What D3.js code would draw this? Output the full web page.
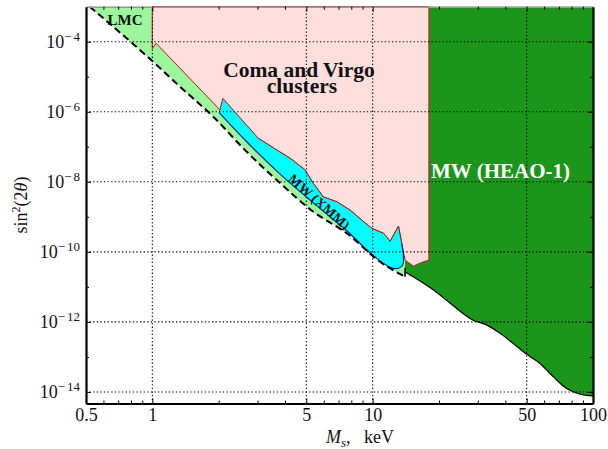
<!DOCTYPE html>
<html lang="en">
<head>
<meta charset="UTF-8">
<title>Sterile neutrino mixing limits</title>
<script src="https://d3js.org/d3.v7.min.js"></script>
<style>
  body { margin: 0; background: #fff; }
  svg text { font-family: "Liberation Serif", "Times New Roman", serif; }
  .grid line { stroke: #000; stroke-width: 1.1; stroke-dasharray: 1.3, 2.3; }
</style>
</head>
<body>
<svg width="608" height="449"></svg>
<script>
// ticks
const xMajor = [0.5, 1, 5, 10, 50, 100];
const xMinor = [0.6, 0.7, 0.8, 0.9, 2, 3, 4, 6, 7, 8, 9, 20, 30, 40, 60, 70, 80, 90];
const xGrid = [1, 5, 10, 50];
const yMajor = [1e-4, 1e-6, 1e-8, 1e-10, 1e-12, 1e-14];
const yMinor = [1e-5, 1e-7, 1e-9, 1e-11, 1e-13];

// LMC lower limit (dashed line), keV vs sin^2(2theta)
const lmcEdge = [[0.52, 1e-3], [1, 2.8e-5], [1.336, 5.2e-6], [1.89, 7.2e-7], [2.68, 7.2e-8],
  [3.8, 9.2e-9], [5.38, 1.39e-9], [7.63, 3.4e-10], [10.8, 5.2e-11], [14.03, 1.95e-11]];

// Coma and Virgo clusters excluded region
const clusterEdge = [[1, 1e-3], [1, 6.3e-5], [1.04, 9e-5], [2.03, 1.12e-6], [3.03, 1.74e-7],
  [3.67, 8.1e-8], [4.22, 4.7e-8], [4.93, 2.2e-8], [5.38, 9.0e-9], [5.97, 3.7e-9], [6.87, 2.7e-9],
  [7.9, 1.55e-9], [8.92, 8.1e-10], [9.9, 4.7e-10], [11.2, 3.4e-10], [12.0, 2.0e-10],
  [13.1, 5.4e-10], [13.55, 1.74e-10], [14.03, 5.8e-11], [15.3, 3.9e-11], [16.7, 5.0e-11],
  [18.0, 5.8e-11], [18.0, 1e-3]];

// MW (XMM) region: upper and lower boundary
const xmmTop = [[2.01, 9.4e-7], [2.09, 2.4e-6], [3.03, 1.74e-7], [3.67, 8.1e-8], [4.22, 4.7e-8],
  [4.93, 2.2e-8], [5.38, 9.0e-9], [5.97, 3.7e-9], [6.87, 2.7e-9], [7.9, 1.55e-9], [8.92, 8.1e-10],
  [9.9, 4.7e-10], [11.2, 3.4e-10], [12.0, 2.0e-10], [13.1, 5.4e-10], [13.55, 1.74e-10],
  [13.8, 7.2e-11], [13.7, 4.2e-11], [13.1, 3.4e-11], [12.0, 3.6e-11]];
const xmmBottom = [[12.0, 3.6e-11], [9.9, 8.6e-11], [7.63, 4.0e-10], [5.38, 2.5e-9],
  [3.8, 1.66e-8], [2.68, 1.39e-7], [2.01, 9.4e-7]];

// MW (HEAO-1) lower edge
const heaoEdge = [[14.03, 2.7e-11], [14.8, 2.2e-11], [18.9, 8.1e-12], [22.5, 3.4e-12],
  [28.6, 1.12e-12], [33.0, 8.1e-13], [37.9, 4.7e-13], [43.5, 2.4e-13], [50.1, 1.19e-13],
  [57.5, 6.5e-14], [66.1, 2.7e-14], [76.0, 1.25e-14], [87.4, 8.6e-15], [100, 7.7e-15]];

const serif = '"Liberation Serif", "Times New Roman", serif';
const yTop = 1e-3;

const x = d3.scaleLog().domain([0.5, 100]).range([86, 593]);
const y = d3.scaleLog().domain([Math.pow(10, -14.33), yTop]).range([403.5, 6.7]);

const svg = d3.select("svg");
const line = d3.line().x(d => x(d[0])).y(d => y(d[1]));
const smooth = d3.line().x(d => x(d[0])).y(d => y(d[1])).curve(d3.curveMonotoneX);
const fillAbove = d3.area().x(d => x(d[0])).y0(y(yTop)).y1(d => y(d[1])).curve(d3.curveMonotoneX);

// light green LMC region
svg.append("path").attr("d", fillAbove(lmcEdge)).attr("fill", "#9cf79c");

// dark green HEAO-1 region
svg.append("path").attr("d", fillAbove(heaoEdge)).attr("fill", "#1b961b");

// clusters (pink)
svg.append("path")
    .attr("d", line(clusterEdge) + "Z")
    .attr("fill", "#ffdede")
    .attr("stroke", "#cc1010")
    .attr("stroke-width", 1);

// MW (XMM) cyan
svg.append("path")
    .attr("d", line(xmmTop.concat(xmmBottom)) + "Z")
    .attr("fill", "#00ffff");
svg.append("path")
    .attr("d", line(xmmTop.slice(0, 16)))
    .attr("fill", "none").attr("stroke", "#b01010").attr("stroke-width", 1);
svg.append("path")
    .attr("d", d3.line().x(d => x(d[0])).y(d => y(d[1])).curve(d3.curveCatmullRom)(xmmTop.slice(15).concat(xmmBottom.slice(1))))
    .attr("fill", "none").attr("stroke", "#1020a0").attr("stroke-width", 1.2);

// HEAO edge line
svg.append("path")
    .attr("d", smooth(heaoEdge))
    .attr("fill", "none").attr("stroke", "#000").attr("stroke-width", 1.2);
const lmcEnd = lmcEdge[lmcEdge.length - 1];
svg.append("line")
    .attr("x1", x(lmcEnd[0])).attr("x2", x(lmcEnd[0]))
    .attr("y1", y(lmcEnd[1])).attr("y2", y(heaoEdge[0][1]) - 4)
    .attr("stroke", "#000").attr("stroke-width", 1.5);

// LMC dashed line
svg.append("path")
    .attr("d", smooth(lmcEdge))
    .attr("fill", "none").attr("stroke", "#000").attr("stroke-width", 2)
    .attr("stroke-dasharray", "7,4");

// grid
const grid = svg.append("g").attr("class", "grid");
grid.selectAll(".gx").data(xGrid).join("line")
    .attr("x1", d => x(d)).attr("x2", d => x(d))
    .attr("y1", y.range()[0]).attr("y2", y.range()[1]);
grid.selectAll(".gy").data(yMajor).join("line")
    .attr("y1", d => y(d)).attr("y2", d => y(d))
    .attr("x1", x.range()[0]).attr("x2", x.range()[1]);

// axes
const [x0, x1] = x.range();
const [yb, yt] = y.range();

function styleAxis(g, color, width) {
    g.attr("font-family", serif).attr("font-size", 18);
    g.select(".domain").attr("stroke", color).attr("stroke-width", width);
    g.selectAll(".tick line").attr("stroke", "#000").attr("stroke-width", 1);
    g.selectAll(".tick text").attr("fill", "#111");
}

const axBottom = svg.append("g").attr("transform", `translate(0,${yb})`)
    .call(d3.axisBottom(x).tickValues(xMajor).tickFormat(d => d).tickSizeInner(-5).tickSizeOuter(0).tickPadding(5));
styleAxis(axBottom, "#000", 2.2);
svg.append("g").attr("transform", `translate(0,${yb})`)
    .call(d3.axisBottom(x).tickValues(xMinor).tickFormat("").tickSizeInner(-3).tickSizeOuter(0))
    .call(g => g.select(".domain").remove());

const axTop = svg.append("g").attr("transform", `translate(0,${yt})`)
    .call(d3.axisTop(x).tickValues(xMajor.slice(1, -1)).tickFormat("").tickSizeInner(-5).tickSizeOuter(0));
styleAxis(axTop, "#999", 1.5);
svg.append("g").attr("transform", `translate(0,${yt})`)
    .call(d3.axisTop(x).tickValues(xMinor).tickFormat("").tickSizeInner(-3).tickSizeOuter(0))
    .call(g => g.select(".domain").remove());

const axLeft = svg.append("g").attr("transform", `translate(${x0},0)`)
    .call(d3.axisLeft(y).tickValues(yMajor).tickSizeInner(-5).tickSizeOuter(0).tickPadding(6));
styleAxis(axLeft, "#000", 2.2);
axLeft.selectAll(".tick text").text(null)
    .each(function (d) {
        const t = d3.select(this);
        const e = Math.round(Math.log10(d));
        t.append("tspan").text("10");
        t.append("tspan").attr("dy", -7).attr("font-size", 13).text("\u2212");
        t.append("tspan").attr("dx", 2).attr("font-size", 13).text(Math.abs(e));
    });
svg.append("g").attr("transform", `translate(${x0},0)`)
    .call(d3.axisLeft(y).tickValues(yMinor).tickFormat("").tickSizeInner(-3).tickSizeOuter(0))
    .call(g => g.select(".domain").remove());

const axRight = svg.append("g").attr("transform", `translate(${x1},0)`)
    .call(d3.axisRight(y).tickValues(yMajor).tickFormat("").tickSizeInner(-5).tickSizeOuter(0));
styleAxis(axRight, "#000", 2.2);
svg.append("g").attr("transform", `translate(${x1},0)`)
    .call(d3.axisRight(y).tickValues(yMinor).tickFormat("").tickSizeInner(-3).tickSizeOuter(0))
    .call(g => g.select(".domain").remove());

// axis titles
const xTitle = svg.append("text").attr("x", 326).attr("y", 443)
    .attr("font-size", 18).attr("fill", "#111");
xTitle.append("tspan").attr("font-style", "italic").text("M");
xTitle.append("tspan").attr("font-style", "italic").attr("font-size", 13).attr("dy", 4).text("s");
xTitle.append("tspan").attr("dy", -4).text(",\u00a0\u00a0\u00a0keV");

const yTitle = svg.append("text").attr("transform", "translate(27,205) rotate(-90)")
    .attr("text-anchor", "middle").attr("font-size", 18).attr("fill", "#111");
yTitle.append("tspan").text("sin");
yTitle.append("tspan").attr("font-size", 12).attr("dy", -7).text("2");
yTitle.append("tspan").attr("dy", 7).text("(2");
yTitle.append("tspan").attr("font-style", "italic").text("\u03b8");
yTitle.append("tspan").text(")");

// region labels
svg.append("text").attr("x", 125).attr("y", 25).attr("text-anchor", "middle")
    .attr("font-size", 15).attr("font-weight", "bold").attr("fill", "#111").text("LMC");
svg.append("text").attr("x", 299).attr("y", 77).attr("text-anchor", "middle")
    .attr("font-size", 21.5).attr("font-weight", "bold").attr("fill", "#111").text("Coma and Virgo");
svg.append("text").attr("x", 302).attr("y", 93).attr("text-anchor", "middle")
    .attr("font-size", 21.5).attr("font-weight", "bold").attr("fill", "#111").text("clusters");
svg.append("text").attr("x", 431).attr("y", 178)
    .attr("font-size", 21).attr("font-weight", "bold").attr("fill", "#fff").text("MW (HEAO-1)");
svg.append("text").attr("transform", "translate(319,202) rotate(41)")
    .attr("text-anchor", "middle").attr("dominant-baseline", "central")
    .attr("font-size", 14).attr("font-weight", "bold").attr("fill", "#111").text("MW (XMM)");
</script>
</body>
</html>
